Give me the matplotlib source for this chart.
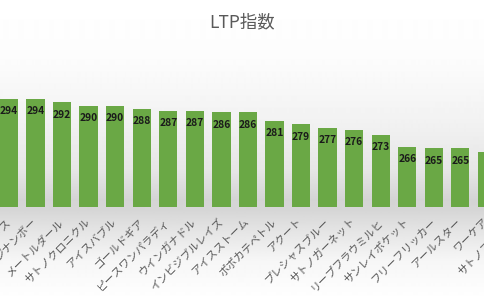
import matplotlib
matplotlib.use('Agg')
import matplotlib.pyplot as plt
import numpy as np

# horse names (first one and last one are cut off in the picture)
names = ['ブラストワンピース', 'ジナンボー', 'メートルダール', 'サトノクロニクル',
         'アイスバブル', 'ゴールドギア', 'ピースワンパラディ', 'ウインガナドル',
         'インビジブルレイズ', 'アイスストーム', 'ポポカテペトル', 'アクート',
         'プレシャスブルー', 'サトノガーネット', 'リープフラウミルヒ', 'サンレイポケット',
         'フリーフリッカー', 'アールスター', 'ワーケア', 'サトノアーサー']
values = [294, 294, 292, 290, 290, 288, 287, 287, 286, 286,
          281, 279, 277, 276, 273, 266, 265, 265, 263, 262]

plt.rcParams['font.family'] = ['Noto Sans CJK JP', 'DejaVu Sans']

fig = plt.figure(figsize=(4.85, 3.0), dpi=100)

# background gradient (white -> grey under the bars -> white)
stops_y = [0, 60, 120, 170, 200, 210, 230, 260, 300]
stops_v = [255, 252, 242, 230, 212, 214, 228, 246, 255]
grad = np.interp(np.arange(300), stops_y, stops_v)
bg = fig.add_axes([0, 0, 1, 1], zorder=0)
bg.imshow(grad[:, None], cmap='gray', vmin=0, vmax=255, aspect='auto',
          extent=(0, 1, 0, 1), interpolation='bilinear')
bg.axis('off')

ax = fig.add_axes([0, 93 / 300, 1, 147 / 300], zorder=1)
ax.patch.set_alpha(0)
x = np.arange(len(values))
ax.bar(x, values, width=0.69, color='#6aa845')

ymin = 230.8
ax.set_xlim(-0.339, 17.93)
ax.set_ylim(ymin, ymin + 147 / 1.714)
for s in ax.spines.values():
    s.set_visible(False)
ax.set_xticks([])
ax.set_yticks([])

for i, v in enumerate(values):
    ax.annotate(str(v), (i, v), xytext=(0, -9), textcoords='offset points',
                ha='center', va='center', fontsize=7.4, fontweight='bold',
                color='#1a1a1a')
    ax.text(i, ymin - 13 / 1.714, names[i], rotation=45, rotation_mode='anchor',
            ha='right', va='center', fontsize=7.8, color='#595959', clip_on=False)

fig.text(0.5, 0.925, 'LTP指数', ha='center', va='center', fontsize=12.5,
         color='#595959')

fig.savefig('out.png', dpi=100)
